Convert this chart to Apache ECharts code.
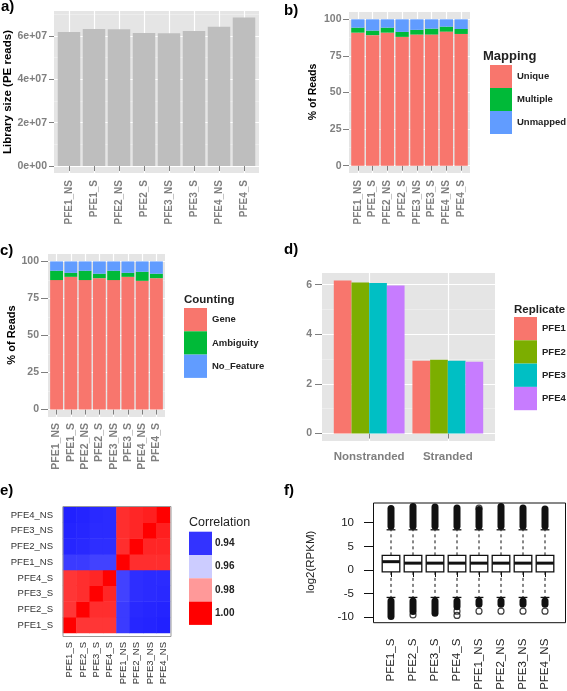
<!DOCTYPE html>
<html><head><meta charset="utf-8">
<script src="https://cdn.jsdelivr.net/npm/echarts@6/dist/echarts.min.js"></script>
<style>html,body{margin:0;padding:0;background:#fff}#c{width:567px;height:691px}</style>
</head><body><div id="c"></div>
<script>
// ---------- data ----------
// a) library size
const libCats = ['PFE1_NS','PFE1_S','PFE2_NS','PFE2_S','PFE3_NS','PFE3_S','PFE4_NS','PFE4_S'];
const libSize = [6.18e7,6.32e7,6.31e7,6.14e7,6.12e7,6.23e7,6.42e7,6.85e7];
const libTicks = [0,2e7,4e7,6e7];
const libMinor = [1e7,3e7,5e7,7e7];
// b) mapping (% of reads)
const mapUnique   = [90.9,89.2,90.9,88.0,89.6,89.6,91.6,90.0];
const mapMultiple = [3.4,3.1,3.4,3.4,3.2,4.0,3.4,3.4];
const mapUnmapped = [5.7,7.7,5.7,8.6,7.2,6.4,5.0,6.6];
const pctTicks = [0,25,50,75,100];
const pctMinor = [12.5,37.5,62.5,87.5];
// c) counting (% of reads)
const cntGene      = [87.4,89.6,87.4,88.7,87.4,89.6,86.9,88.7];
const cntAmbiguity = [6.3,2.7,6.3,3.0,6.3,2.7,6.1,3.0];
const cntNoFeature = [6.3,7.7,6.3,8.3,6.3,7.7,7.0,8.3];
// d) replicate values
const strandCats = ['Nonstranded','Stranded'];
const repNames = ['PFE1','PFE2','PFE3','PFE4'];
const repPFE1 = [6.17,2.93];
const repPFE2 = [6.09,2.97];
const repPFE3 = [6.07,2.93];
const repPFE4 = [5.97,2.89];
const dTicks = [0,2,4,6];
const dMinor = [1,3,5];
// e) correlation heatmap
const corrCats = ['PFE1_S','PFE2_S','PFE3_S','PFE4_S','PFE1_NS','PFE2_NS','PFE3_NS','PFE4_NS'];
const corrMatrix = [
  [1.000,0.993,0.993,0.993,0.941,0.935,0.934,0.933],
  [0.993,1.000,0.994,0.994,0.941,0.936,0.935,0.934],
  [0.993,0.994,1.000,0.995,0.942,0.938,0.937,0.936],
  [0.993,0.994,0.995,1.000,0.942,0.938,0.937,0.937],
  [0.941,0.941,0.942,0.942,1.000,0.994,0.994,0.994],
  [0.935,0.936,0.938,0.938,0.994,1.000,0.995,0.995],
  [0.934,0.935,0.937,0.937,0.994,0.995,1.000,0.996],
  [0.933,0.934,0.936,0.937,0.994,0.995,0.996,1.000]
];
const corrLegendValues = ['0.94','0.96','0.98','1.00'];
const corrScaleColors = ['#0000FF','#3333FF','#CCCCFF','#FF9999','#FF0000']; // at 0.92,0.94,0.96,0.98,1.00
// f) log2(RPKM) boxplots
const boxCats = ['PFE1_S','PFE2_S','PFE3_S','PFE4_S','PFE1_NS','PFE2_NS','PFE3_NS','PFE4_NS'];
const boxQ1     = [-0.4,-0.4,-0.4,-0.4,-0.4,-0.4,-0.4,-0.4];
const boxMedian = [1.76,1.45,1.45,1.45,1.45,1.45,1.45,1.45];
const boxQ3     = [3.1,3.1,3.1,3.1,3.1,3.1,3.1,3.1];
const boxLowW   = [-5.8,-5.8,-5.8,-5.8,-5.8,-5.8,-5.8,-5.8];
const boxHighW  = [8.5,8.5,8.5,8.5,8.5,8.5,8.5,8.5];
const outUpperMax = [13.0,13.4,13.3,13.1,12.8,13.4,13.1,12.9];
const outLowerMin = [-9.85,-8.8,-9.15,-7.75,-7.25,-7.25,-7.25,-7.25];
const outCircles = [[1,-9.5],[3,-8.7],[3,-9.6],[4,-8.7],[5,-8.7],[6,-8.7],[7,-8.7],[4,13.1]];

// ---------- helpers ----------
const GRAY = '#7F7F7F';
const FONT = 'Liberation Sans, Arial, sans-serif';
function sci(v){ if(v===0) return '0e+00'; const e=Math.floor(Math.log10(Math.abs(v))+1e-9); const m=Math.round(v/Math.pow(10,e)*100)/100; return m+'e+'+String(e).padStart(2,'0'); }
// ggplot panels: background panel (with grid lines) + data grid inset by 0.1 category unit on each side
const panels = [
  {l:54, t:11, w:205, h:162, n:8},
  {l:349, t:12, w:121, h:161, n:8},
  {l:48, t:254, w:117, h:163, n:8},
  {l:322, t:273, w:173, h:168, n:2}
];
function bgGrid(p){ return {left:p.l,top:p.t,width:p.w,height:p.h,show:true,backgroundColor:'#E5E5E5',borderWidth:0,containLabel:false,outerBoundsMode:'none'}; }
function dataGrid(p){ const u=p.w/(p.n+0.2); return {left:p.l+0.1*u,top:p.t,width:p.n*u,height:p.h,show:false,containLabel:false,outerBoundsMode:'none'}; }
function bgX(gi,n){
  const centers=[]; for(let i=1;i<=n;i++) centers.push(i);
  return {type:'value',gridIndex:gi,min:0.4,max:n+0.6,position:'bottom',
    axisLine:{show:false},axisTick:{show:false,customValues:centers},axisLabel:{show:false,customValues:centers},
    splitLine:{show:true,lineStyle:{color:'#FFFFFF',width:1.2}}};
}
function ggY(gi,min,max,ticks,fmt,fs,margin,tl){
  return {type:'value',gridIndex:gi,min,max,position:'left',
    axisLine:{show:false},
    axisTick:{show:true,length:tl,lineStyle:{color:GRAY,width:1},customValues:ticks},
    axisLabel:{customValues:ticks,formatter:fmt,color:GRAY,fontSize:fs,fontWeight:'bold',margin,fontFamily:FONT},
    splitLine:{show:true,lineStyle:{color:'#FFFFFF',width:1.2}},splitArea:{show:false}};
}
function ggYMinor(gi,min,max,minor){
  return {type:'value',gridIndex:gi,min,max,position:'left',
    axisLine:{show:false},axisTick:{show:false,customValues:minor},axisLabel:{show:false,customValues:minor},
    splitLine:{show:true,lineStyle:{color:'#F2F2F2',width:0.6}}};
}
function hiddenY(gi,min,max){ return {type:'value',gridIndex:gi,min,max,show:false,splitLine:{show:false}}; }
function ggX(gi,cats,fs,rotate,margin,tl){
  return {type:'category',gridIndex:gi,data:cats,position:'bottom',
    axisLine:{show:false},
    axisTick:{show:true,alignWithLabel:true,length:tl,lineStyle:{color:GRAY,width:1}},
    axisLabel:{interval:0,rotate,color:GRAY,fontSize:fs,fontWeight:'bold',margin,fontFamily:FONT},
    splitLine:{show:false}};
}
function txt(text,x,y,o){
  o=o||{};
  return {type:'text',x,y,rotation:o.rot||0,z:100,silent:true,
    style:{text,fill:o.color||'#000',fontSize:o.size||12,fontWeight:o.weight||'normal',fontFamily:FONT,
      align:o.align||'left',verticalAlign:o.va||'middle'}};
}

// ---------- boxplot renderer ----------
function renderBox(params, api){
  const i = api.value(0);
  const bw = api.size([1,0])[0]*0.8;
  const cx = api.coord([i,0])[0];
  const Y = v => api.coord([i,v])[1];
  const q1=api.value(1), md=api.value(2), q3=api.value(3), lw=api.value(4), hw=api.value(5), um=api.value(6), lm=api.value(7);
  const ink='#111', st=bw*0.25;
  return {type:'group',children:[
    {type:'line',shape:{x1:cx,y1:Y(hw)-3.5,x2:cx,y2:Y(um)},style:{stroke:ink,lineWidth:7,lineCap:'round'}},
    {type:'line',shape:{x1:cx,y1:Y(lw)+3.5,x2:cx,y2:Y(lm)},style:{stroke:ink,lineWidth:7,lineCap:'round'}},
    {type:'line',shape:{x1:cx,y1:Y(q3),x2:cx,y2:Y(hw)},style:{stroke:ink,lineWidth:1,lineDash:[3,3]}},
    {type:'line',shape:{x1:cx,y1:Y(q1),x2:cx,y2:Y(lw)},style:{stroke:ink,lineWidth:1,lineDash:[3,3]}},
    {type:'line',shape:{x1:cx-st,y1:Y(hw),x2:cx+st,y2:Y(hw)},style:{stroke:ink,lineWidth:1.3}},
    {type:'line',shape:{x1:cx-st,y1:Y(lw),x2:cx+st,y2:Y(lw)},style:{stroke:ink,lineWidth:1.3}},
    {type:'rect',shape:{x:cx-bw/2,y:Y(q3),width:bw,height:Y(q1)-Y(q3)},style:{fill:'#fff',stroke:ink,lineWidth:1.3}},
    {type:'line',shape:{x1:cx-bw/2,y1:Y(md),x2:cx+bw/2,y2:Y(md)},style:{stroke:ink,lineWidth:3}}
  ]};
}

// ---------- build ----------
const corrData = [];
corrMatrix.forEach((row,yi)=>row.forEach((v,xi)=>corrData.push([xi,yi,v])));
const boxData = boxCats.map((c,i)=>[i,boxQ1[i],boxMedian[i],boxQ3[i],boxLowW[i],boxHighW[i],outUpperMax[i],outLowerMin[i]]);

const mapColors = ['#F8766D','#00BA38','#619CFF'];
const repColors = ['#F8766D','#7CAE00','#00BFC4','#C77CFF'];
const repVals = [repPFE1,repPFE2,repPFE3,repPFE4];

const graphics = [
  txt('a)',1,7,{size:15,weight:'bold'}),
  txt('b)',284,11,{size:15,weight:'bold'}),
  txt('c)',0,251,{size:15,weight:'bold'}),
  txt('d)',284,250,{size:15,weight:'bold'}),
  txt('e)',0,491,{size:15,weight:'bold'}),
  txt('f)',284,491,{size:15,weight:'bold'}),
  txt('Library size (PE reads)',8,92,{size:11.5,weight:'bold',rot:Math.PI/2,align:'center'}),
  txt('% of Reads',313,92,{size:10.5,weight:'bold',rot:Math.PI/2,align:'center'}),
  txt('% of Reads',12,335,{size:11,weight:'bold',rot:Math.PI/2,align:'center'}),
  txt('log2(RPKM)',311,562,{size:11.5,rot:Math.PI/2,align:'center',color:'#222'}),
  txt('Mapping',483,56,{size:13,weight:'bold',color:'#222'}),
  txt('Counting',184,300,{size:11.5,weight:'bold',color:'#222'}),
  txt('Replicate',514,310,{size:11.5,weight:'bold',color:'#222'}),
  txt('Correlation',189,523,{size:12.5,color:'#222'}),
  {type:'rect',shape:{x:63,y:506.5,width:108,height:130},style:{fill:'none',stroke:'#999',lineWidth:1},z:50,silent:true},
  {type:'rect',shape:{x:373.5,y:503,width:192,height:119.7},style:{fill:'none',stroke:'#111',lineWidth:1},z:50,silent:true}
];
corrLegendValues.forEach((lab,k)=>{
  const y0 = 531.7 + k*23.3;
  graphics.push({type:'rect',shape:{x:189,y:y0,width:23,height:23.3},style:{fill:corrScaleColors[k+1]},silent:true});
  graphics.push(txt(lab,215,y0+11.6,{size:10,weight:'bold',color:'#222'}));
});

const yr = [[-3.2e6,7.15e7],[-5,105],[-5,105],[-0.3,6.47]];

const option = {
  animation:false,
  textStyle:{fontFamily:FONT},
  grid:[
    ...panels.map(bgGrid),                       // 0-3
    ...panels.map(dataGrid),                     // 4-7
    {left:63,top:507,width:107,height:126,show:false,containLabel:false,outerBoundsMode:'none'},      // 8
    {left:380,top:522.7,width:176,height:94.6,show:false,containLabel:false,outerBoundsMode:'none'}  // 9
  ],
  xAxis:[
    ...panels.map((p,i)=>bgX(i,p.n)),            // 0-3
    ggX(4,libCats,10,90,7,5),                    // 4
    ggX(5,libCats,10,90,7,5),                    // 5
    ggX(6,libCats,10.5,90,6,5),                  // 6
    ggX(7,strandCats,11.5,0,10,5),               // 7
    {type:'category',gridIndex:8,data:corrCats,axisLine:{show:false},axisTick:{show:false},
      axisLabel:{interval:0,rotate:90,color:'#333',fontSize:9.5,margin:9},splitLine:{show:false}},   // 8
    {type:'category',gridIndex:9,data:boxCats,offset:5.4,axisLine:{show:false},
      axisTick:{show:true,alignWithLabel:true,length:7,lineStyle:{color:'#111'}},
      axisLabel:{interval:0,rotate:90,color:'#222',fontSize:11.5,margin:16},splitLine:{show:false}}  // 9
  ],
  yAxis:[
    ggY(0,yr[0][0],yr[0][1],libTicks,sci,10.5,7,5),  // 0
    ggYMinor(0,yr[0][0],yr[0][1],libMinor),          // 1
    ggY(1,yr[1][0],yr[1][1],pctTicks,null,10.5,7.5,6),// 2
    ggYMinor(1,yr[1][0],yr[1][1],pctMinor),          // 3
    ggY(2,yr[2][0],yr[2][1],pctTicks,null,10.5,9,7), // 4
    ggYMinor(2,yr[2][0],yr[2][1],pctMinor),          // 5
    ggY(3,yr[3][0],yr[3][1],dTicks,null,10.5,10,7),  // 6
    ggYMinor(3,yr[3][0],yr[3][1],dMinor),            // 7
    hiddenY(4,yr[0][0],yr[0][1]),                    // 8
    hiddenY(5,yr[1][0],yr[1][1]),                    // 9
    hiddenY(6,yr[2][0],yr[2][1]),                    // 10
    hiddenY(7,yr[3][0],yr[3][1]),                    // 11
    {type:'category',gridIndex:8,data:corrCats,axisLine:{show:false},axisTick:{show:false},
      axisLabel:{interval:0,color:'#333',fontSize:9.5,margin:10},splitLine:{show:false}},    // 12
    {type:'value',gridIndex:9,min:-10,max:10,interval:5,offset:7,axisLine:{show:false},
      axisTick:{show:true,length:9,lineStyle:{color:'#111'}},
      axisLabel:{color:'#222',fontSize:11.5,margin:19},splitLine:{show:false}}              // 13
  ],
  visualMap:[{type:'continuous',show:false,seriesIndex:11,dimension:2,min:0.92,max:1.0,inRange:{color:corrScaleColors}}],
  legend:[
    {data:['Unique','Multiple','Unmapped'],orient:'vertical',left:490,top:65,itemWidth:22,itemHeight:23,itemGap:0,
      icon:'rect',padding:0,selectedMode:false,textStyle:{fontSize:9.5,fontWeight:'bold',color:'#222'}},
    {data:['Gene','Ambiguity','No_Feature'],orient:'vertical',left:184,top:308,itemWidth:23,itemHeight:23.3,itemGap:0,
      icon:'rect',padding:0,selectedMode:false,textStyle:{fontSize:9.5,fontWeight:'bold',color:'#222'}},
    {data:repNames,orient:'vertical',left:514,top:317,itemWidth:23,itemHeight:23.3,itemGap:0,
      icon:'rect',padding:0,selectedMode:false,textStyle:{fontSize:9.5,fontWeight:'bold',color:'#222'}}
  ],
  series:[
    {type:'bar',name:'Library size',xAxisIndex:4,yAxisIndex:8,data:libSize,barCategoryGap:'10%',itemStyle:{color:'#BEBEBE'}},
    {type:'bar',name:'Unique',xAxisIndex:5,yAxisIndex:9,stack:'map',data:mapUnique,barCategoryGap:'10%',itemStyle:{color:mapColors[0]}},
    {type:'bar',name:'Multiple',xAxisIndex:5,yAxisIndex:9,stack:'map',data:mapMultiple,barCategoryGap:'10%',itemStyle:{color:mapColors[1]}},
    {type:'bar',name:'Unmapped',xAxisIndex:5,yAxisIndex:9,stack:'map',data:mapUnmapped,barCategoryGap:'10%',itemStyle:{color:mapColors[2]}},
    {type:'bar',name:'Gene',xAxisIndex:6,yAxisIndex:10,stack:'cnt',data:cntGene,barCategoryGap:'10%',itemStyle:{color:mapColors[0]}},
    {type:'bar',name:'Ambiguity',xAxisIndex:6,yAxisIndex:10,stack:'cnt',data:cntAmbiguity,barCategoryGap:'10%',itemStyle:{color:mapColors[1]}},
    {type:'bar',name:'No_Feature',xAxisIndex:6,yAxisIndex:10,stack:'cnt',data:cntNoFeature,barCategoryGap:'10%',itemStyle:{color:mapColors[2]}},
    ...repNames.map((n,k)=>({type:'bar',name:n,xAxisIndex:7,yAxisIndex:11,data:repVals[k],barGap:'0%',barCategoryGap:'10%',itemStyle:{color:repColors[k]}})),
    {type:'heatmap',name:'Correlation',xAxisIndex:8,yAxisIndex:12,data:corrData,itemStyle:{borderWidth:0}},
    {type:'custom',name:'log2RPKM',xAxisIndex:9,yAxisIndex:13,data:boxData,renderItem:renderBox,clip:false,
      encode:{x:0,y:[1,2,3,4,5,6,7]}},
    {type:'scatter',name:'outliers',xAxisIndex:9,yAxisIndex:13,data:outCircles,symbol:'circle',symbolSize:6,clip:false,
      itemStyle:{color:'rgba(255,255,255,0)',borderColor:'#111',borderWidth:1.2}}
  ],
  graphic:graphics
};
const chart = echarts.init(document.getElementById('c'),null,{renderer:'canvas'});
chart.setOption(option);
</script>
</body></html>
